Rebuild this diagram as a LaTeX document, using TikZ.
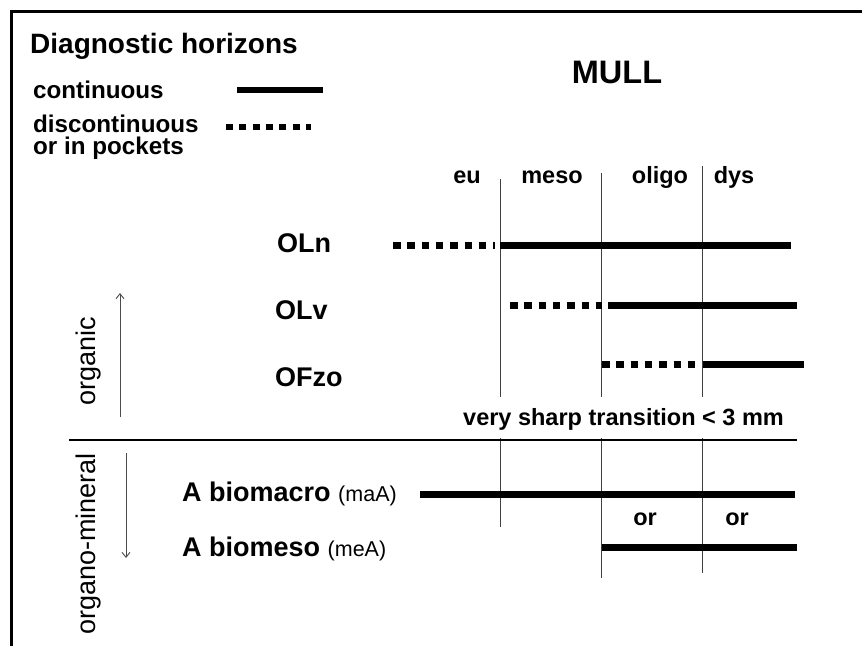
\documentclass[tikz,border=0pt]{standalone}
\usepackage{fontspec}
\setmainfont{Liberation Sans}
\usetikzlibrary{arrows.meta}
\newcommand{\titlesz}{\fontsize{27}{32}\selectfont}
\newcommand{\textsz}{\fontsize{23.5}{28}\selectfont}
\newcommand{\smallsz}{\fontsize{21.5}{25}\selectfont}

\begin{document}
\begin{tikzpicture}[x=1pt,y=-1pt,
   txt/.style={font=\bfseries\textsz,inner sep=0pt},
   legtxt/.style={font=\bfseries\fontsize{24.2}{29}\selectfont,inner sep=0pt,anchor=base west},
   hor/.style={font=\bfseries\titlesz,inner sep=0pt,anchor=base west},
   side/.style={font=\titlesz,inner sep=0pt,rotate=90,anchor=base east},
   solidbar/.style={line width=7pt},
   dotbar/.style={line width=7pt,dash pattern=on 7.5pt off 6.8pt},
   sep/.style={line width=0.9pt,black!75},
   arr/.style={line width=0.9pt,black!70,-{Straight Barb[length=5pt,width=8pt]}}]
   \useasboundingbox (0,0) rectangle (862,646);
   % frame
   \draw[line width=3pt] (11,646) -- (11,11.5) -- (862,11.5);
   % legend
   \node[hor,font=\bfseries\fontsize{28}{33}\selectfont] (diag) at (30,53.5) {Diagnostic horizons};
   \node[legtxt] (cont) at (33,98) {continuous};
   \node[legtxt] (disc) at (33,132) {discontinuous};
   \node[legtxt] (pock) at (33,154.5) {or in pockets};
   \draw[line width=6pt] (237,90) -- (323,90);
   \draw[line width=6pt,dash pattern=on 7pt off 6.3pt] (226,126.7) -- (311,126.7);
   \node[font=\bfseries\fontsize{32.5}{38}\selectfont,inner sep=0pt,anchor=base] (mull) at (617,83) {MULL};
   % columns
   \foreach \x/\t in {467/eu,552/meso,660/oligo,734/dys}
      \node[txt,anchor=base] (col-\t) at (\x,183) {\t};
   \foreach \x/\top/\bot in {500/179/527,601/173/578,702/166/573} {
      \draw[sep] (\x,\top) -- (\x,397);
      \draw[sep] (\x,438) -- (\x,\bot);
   }
   % organic horizons
   \node[hor] (oln) at (277,252) {OLn};
   \node[hor] (olv) at (275,319) {OLv};
   \node[hor] (ofzo) at (275,386) {OFzo};
   \draw[dotbar] (393,245) -- (495,245);
   \draw[solidbar] (500,245) -- (791,245);
   \draw[dotbar] (510,305) -- (602,305);
   \draw[solidbar] (608,305) -- (797,305);
   \draw[dotbar] (602,364) -- (695,364);
   \draw[solidbar] (703,364) -- (804,364);
   \node[txt,anchor=base west] (sharp) at (463,425) {very sharp transition < 3 mm};
   \draw[line width=2.3pt] (69,440) -- (797,440);
   % organo-mineral horizons
   \node[hor] (maa) at (182,501.5) {A biomacro {\normalfont\smallsz (maA)}};
   \node[hor] (mea) at (182,556.5) {A biomeso {\normalfont\smallsz (meA)}};
   \draw[solidbar] (420,494) -- (795,494);
   \draw[solidbar] (602,547) -- (797,547);
   \node[txt,anchor=base] (or1) at (645,525) {or};
   \node[txt,anchor=base] (or2) at (737,525) {or};
   % side labels
   \node[side] (org) at (95,317) {organic};
   \node[side] (orgmin) at (95,453) {organo-mineral};
   \draw[arr] (120,417) -- (120,293);
   \draw[arr] (126,453) -- (126,558);
\end{tikzpicture}
\end{document}
